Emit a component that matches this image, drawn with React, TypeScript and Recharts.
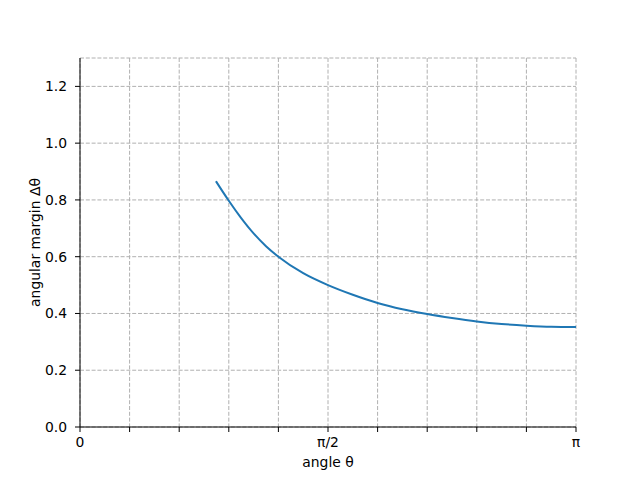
import React from "react";
import {
  LineChart,
  Line,
  XAxis,
  YAxis,
  CartesianGrid,
} from "recharts";

// angle theta as fraction of pi
const thetaOverPi = [0.274, 0.287, 0.3, 0.325, 0.35, 0.375, 0.4, 0.45, 0.5, 0.55, 0.6, 0.65, 0.7, 0.75, 0.8, 0.85, 0.9, 0.95, 1.0];
// angular margin
const margin = [0.866, 0.831, 0.797, 0.736, 0.682, 0.637, 0.6, 0.542, 0.5, 0.466, 0.437, 0.415, 0.398, 0.384, 0.372, 0.363, 0.357, 0.353, 0.352];

const xTicks = [0, 0.1, 0.2, 0.3, 0.4, 0.5, 0.6, 0.7, 0.8, 0.9, 1.0].map((f) => f * Math.PI);
const yTicks = [0, 0.2, 0.4, 0.6, 0.8, 1.0, 1.2];

const data = thetaOverPi.map((f, i) => ({ theta: f * Math.PI, dtheta: margin[i] }));

const FONT = "DejaVu Sans, sans-serif";
const tickStyle = { fill: "#000", fontSize: 13.9, fontFamily: FONT };

const formatX = (v: number) => {
  const f = v / Math.PI;
  if (Math.abs(f) < 1e-6) return "0";
  if (Math.abs(f - 0.5) < 1e-6) return "π/2";
  if (Math.abs(f - 1) < 1e-6) return "π";
  return "";
};

export default function App() {
  return (
    <div style={{ position: "absolute", left: 0, top: 0, background: "#fff" }}>
      <LineChart
        width={640}
        height={480}
        data={data}
        margin={{ top: 58, right: 64, bottom: 0, left: 0 }}
      >
        <CartesianGrid
          xAxisId="b"
          yAxisId="l"
          stroke="#b0b0b0"
          strokeDasharray="4 1.8"
          strokeWidth={1}
        />
        <XAxis
          xAxisId="b"
          dataKey="theta"
          type="number"
          domain={[0, Math.PI]}
          ticks={xTicks}
          tickFormatter={formatX}
          interval={0}
          stroke="#000"
          tickSize={5}
          tickMargin={5}
          tick={tickStyle}
          height={53}
          label={{ value: "angle θ", position: "insideBottom", offset: 13, fill: "#000", fontSize: 13.9, fontFamily: FONT }}
        />
        <XAxis
          xAxisId="t"
          orientation="top"
          dataKey="theta"
          type="number"
          domain={[0, Math.PI]}
          tick={false}
          tickLine={false}
          stroke="#000"
          height={0}
        />
        <YAxis
          yAxisId="l"
          type="number"
          domain={[0, 1.3]}
          ticks={yTicks}
          tickFormatter={(v: number) => v.toFixed(1)}
          interval={0}
          stroke="#000"
          tickSize={5}
          tickMargin={8}
          tick={tickStyle}
          width={80}
          label={{
            value: "angular margin Δθ",
            angle: -90,
            position: "insideLeft",
            offset: 35,
            fill: "#000",
            fontSize: 13.9,
            fontFamily: FONT,
            style: { textAnchor: "middle" },
          }}
        />
        <YAxis
          yAxisId="r"
          orientation="right"
          type="number"
          domain={[0, 1.3]}
          tick={false}
          tickLine={false}
          stroke="#000"
          width={0}
        />
        <Line
          xAxisId="b"
          yAxisId="l"
          type="monotone"
          dataKey="dtheta"
          stroke="#1f77b4"
          strokeWidth={2}
          dot={false}
          isAnimationActive={false}
        />
      </LineChart>
    </div>
  );
}
